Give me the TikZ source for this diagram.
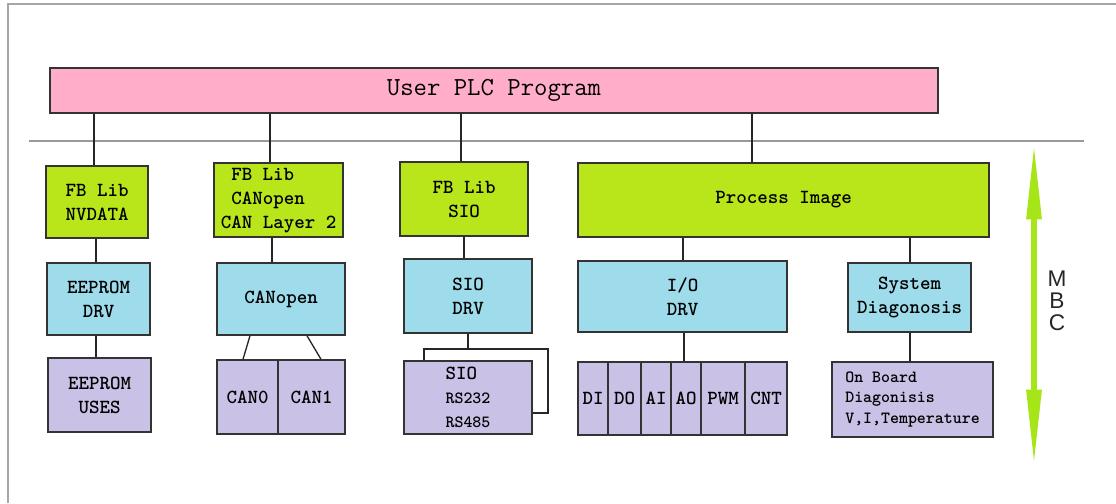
\documentclass[tikz,border=0pt]{standalone}
\usepackage{fontspec}
\usetikzlibrary{arrows.meta}
\newfontfamily\mbcfont{Liberation Sans}
\definecolor{plcpink}{HTML}{FFADC9}
\definecolor{fblime}{HTML}{B9E61B}
\definecolor{drvcyan}{HTML}{9EDCEB}
\definecolor{hwlilac}{HTML}{C9C1E6}
\definecolor{mbcgreen}{HTML}{A6E619}
\begin{document}
\begin{tikzpicture}[x=0.75pt,y=0.75pt,yscale=-1,xscale=1,
  blk/.style={draw=black!80, line width=1.1pt, inner sep=0pt, align=center,
    font=\ttfamily\bfseries\fontsize{15}{18}\selectfont},
  sz/.style 2 args={minimum width=#1*0.75pt, minimum height=#2*0.75pt},
  lib/.style={blk, fill=fblime},
  drv/.style={blk, fill=drvcyan},
  hw/.style={blk, fill=hwlilac},
  small/.style={font=\ttfamily\bfseries\fontsize{12.8}{15.4}\selectfont},
  wire/.style={line width=1pt, black!85}]

\useasboundingbox (0,0) rectangle (1116,503);

% frame and bus
\draw [gray!70, line width=1.2pt] (8,503) -- (8,4) -- (1116,4);
\draw [gray!80, line width=1.5pt] (29,140.5) -- (1084,140.5);

\node [blk, fill=plcpink, sz={888}{45}, font=\ttfamily\fontsize{19.5}{22}\selectfont] (plc) at (494,90.5) {User PLC Program};

% function block libs
\node [lib, sz={102}{72}] (fbnv) at (97,202) {FB Lib\\NVDATA};
\node [lib, sz={129}{74}, align=left] (fbcan) at (278.5,200) {\phantom{C}FB Lib\\\phantom{C}CANopen\\CAN Layer 2};
\node [lib, sz={128}{74}] (fbsio) at (464,199) {FB Lib\\SIO};
\node [lib, sz={411}{74}] (pimg) at (783.5,200) {Process Image};

% drivers
\node [drv, sz={103}{72}] (eedrv) at (98.5,299) {EEPROM\\DRV};
\node [drv, sz={128}{72}] (candrv) at (281,299) {CANopen};
\node [drv, sz={128}{74}] (siodrv) at (468,296) {SIO\\DRV};
\node [drv, sz={209}{71}] (iodrv) at (682.5,296.5) {I/O\\DRV};
\node [drv, sz={123}{69}] (sysdiag) at (909.5,297.5) {System\\Diagonosis};

% hardware
\node [hw, sz={103}{74}] (eeuse) at (99.5,395) {EEPROM\\USES};
\node [hw, sz={61}{74}] (can0) at (247.5,397) {CAN0};
\node [hw, sz={67}{74}] (can1) at (311.5,397) {CAN1};
\node [hw, sz={128}{73}, align=left] (siobox) at (468,397.5) {SIO\\{\fontsize{12.8}{15.4}\selectfont RS232}\\{\fontsize{12.8}{15.4}\selectfont RS485}};
\node [hw, sz={30}{73}] (di) at (593,398.5) {DI};
\node [hw, sz={33}{73}] (do) at (624.5,398.5) {DO};
\node [hw, sz={30}{73}] (ai) at (656,398.5) {AI};
\node [hw, sz={30}{73}] (ao) at (686,398.5) {AO};
\node [hw, sz={44}{73}] (pwm) at (723,398.5) {PWM};
\node [hw, sz={42}{73}] (cnt) at (766,398.5) {CNT};
\node [hw, small, sz={161}{75}, align=left] (onboard) at (912.5,399.5) {On Board\\Diagonisis\\V,I,Temperature};

% links
\draw [wire] (plc.south -| 94,0) -- (fbnv.north -| 94,0);
\draw [wire] (plc.south -| 270,0) -- (fbcan.north -| 270,0);
\draw [wire] (plc.south -| 461,0) -- (fbsio.north -| 461,0);
\draw [wire] (plc.south -| 752,0) -- (pimg.north -| 752,0);
\draw [wire] (fbnv.south -| 96,0) -- (eedrv.north -| 96,0);
\draw [wire] (fbcan.south -| 272,0) -- (candrv.north -| 272,0);
\draw [wire] (fbsio.south -| 464,0) -- (siodrv.north -| 464,0);
\draw [wire] (pimg.south -| 683,0) -- (iodrv.north -| 683,0);
\draw [wire] (pimg.south -| 910,0) -- (sysdiag.north -| 910,0);
\draw [wire] (eedrv.south -| 96,0) -- (eeuse.north -| 96,0);
\draw [wire] (candrv.south -| 250,0) -- (can0.north -| 243,0);
\draw [wire] (candrv.south -| 307,0) -- (can1.north -| 321,0);
\draw [wire] (siodrv.south) -- (siodrv.south |- 0,349);
\draw [wire] (siobox.north -| 424,0) |- (548,349) |- (siobox.east |- 0,413);
\draw [wire] (iodrv.south -| 684,0) -- (ao.north -| 684,0);
\draw [wire] (sysdiag.south -| 910,0) -- (onboard.north -| 910,0);

% MBC
\coordinate (mbctop) at (1034,142);
\coordinate (mbcbot) at (1034,467);
\draw [mbcgreen, line width=4.5pt, {Triangle[length=58pt,width=10.5pt]}-{Triangle[length=58pt,width=10.5pt]}] (mbctop) -- (mbcbot);
\node [font=\mbcfont\fontsize{17}{16.5}\selectfont, align=center, text=black!85] (mbc) at (1057,300.5) {M\\B\\C};

\end{tikzpicture}
\end{document}
